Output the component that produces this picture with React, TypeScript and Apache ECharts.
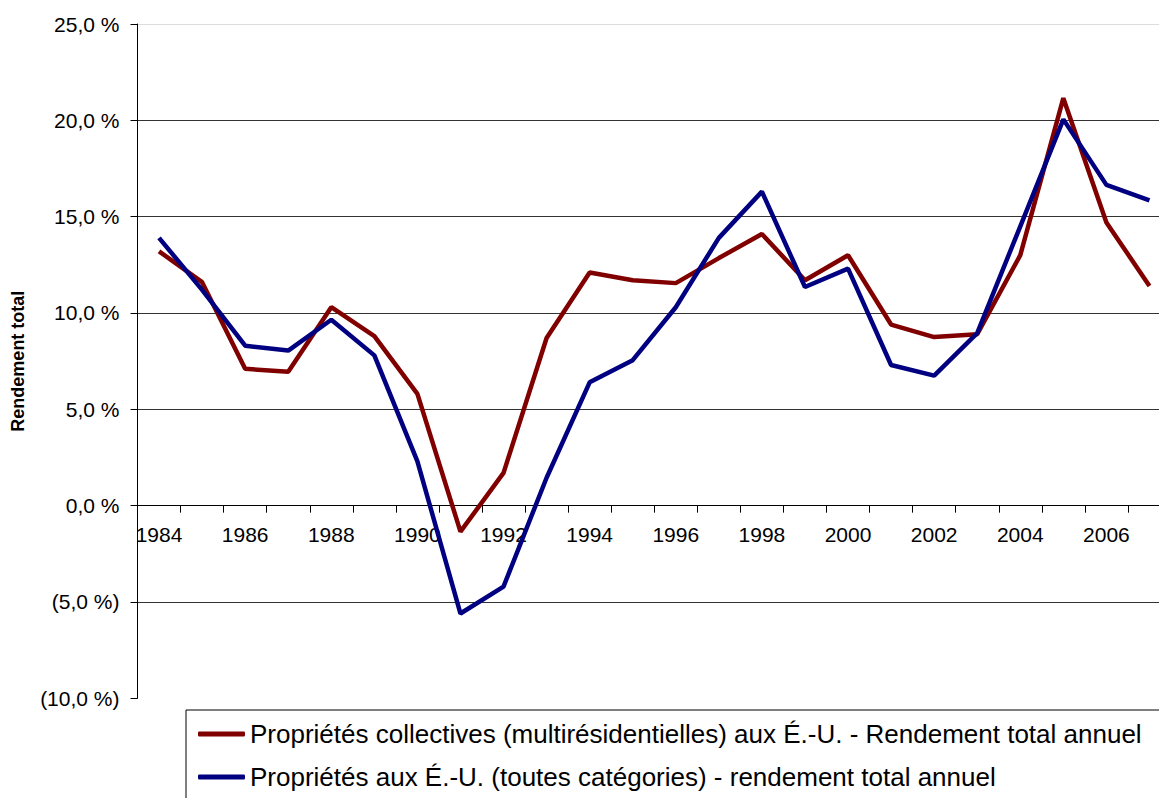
import React, { useEffect, useRef } from "react";
import * as echarts from "echarts";

const years = [
  "1984", "1985", "1986", "1987", "1988", "1989", "1990", "1991", "1992", "1993", "1994", "1995",
  "1996", "1997", "1998", "1999", "2000", "2001", "2002", "2003", "2004", "2005", "2006", "2007",
];
const multiFamily = [
  13.2, 11.6, 7.1, 6.95, 10.3, 8.8, 5.8, -1.35, 1.7, 8.7, 12.1, 11.7,
  11.55, 12.85, 14.1, 11.7, 13.0, 9.4, 8.75, 8.9, 13.0, 21.15, 14.7, 11.4,
];
const allProperty = [
  13.9, 11.2, 8.3, 8.05, 9.65, 7.8, 2.3, -5.6, -4.2, 1.45, 6.4, 7.55,
  10.3, 13.9, 16.3, 11.35, 12.3, 7.3, 6.75, 8.95, 14.5, 20.05, 16.65, 15.85,
];
const seriesNames = [
  "Propriétés collectives (multirésidentielles) aux É.-U. - Rendement total annuel",
  "Propriétés aux É.-U. (toutes catégories) - rendement total annuel",
];
const yAxisName = "Rendement total";

const fmt = (v: number) => {
  const s = Math.abs(v).toFixed(1).replace(".", ",") + " %";
  return v < 0 ? `(${s})` : s;
};

export default function App() {
  const ref = useRef<HTMLDivElement>(null);
  useEffect(() => {
    if (!ref.current) return;
    const chart = echarts.init(ref.current, null, { renderer: "svg" });
    const font = "Liberation Sans, Arial, sans-serif";
    const gridTop = 24;
    const gridH = 674.3;
    chart.setOption({
      animation: false,
      backgroundColor: "#fff",
      textStyle: { fontFamily: font },
      grid: { left: 137.5, top: gridTop, width: 1033.5, height: gridH, containLabel: false },
      xAxis: {
        type: "category",
        data: years,
        boundaryGap: true,
        position: "bottom",
        offset: -(gridH * 10) / 35,
        axisLine: { onZero: false, lineStyle: { color: "#000", width: 1 } },
        axisTick: { show: true, interval: 0, length: 7, inside: false, lineStyle: { color: "#000" } },
        axisLabel: { interval: 1, color: "#000", fontSize: 21, fontFamily: font, margin: 18 },
        splitLine: { show: false },
      },
      yAxis: {
        type: "value",
        min: -10,
        max: 25,
        interval: 5,
        name: yAxisName,
        nameLocation: "middle",
        nameGap: 111,
        nameTextStyle: { color: "#000", fontSize: 18, fontWeight: "bold", fontFamily: font },
        axisLine: { show: true, lineStyle: { color: "#000", width: 1 } },
        axisTick: { show: true, length: 7, lineStyle: { color: "#000" } },
        axisLabel: { color: "#000", fontSize: 21, fontFamily: font, margin: 18, formatter: fmt },
        splitLine: {
          show: true,
          lineStyle: {
            color: ["rgba(0,0,0,0)", "#333", "#333", "#333", "#333", "#333", "#333", "#ddd"],
            width: 1,
          },
        },
      },
      legend: {
        show: true,
        orient: "vertical",
        left: 198,
        top: 720,
        padding: 0,
        itemWidth: 47,
        itemHeight: 5,
        itemGap: 15,
        icon: "roundRect",
        textStyle: { color: "#000", fontSize: 26, fontFamily: font, lineHeight: 28 },
        data: seriesNames,
      },
      graphic: [
        {
          type: "rect",
          left: 183.5,
          top: 707.5,
          shape: { width: 1100, height: 120 },
          style: { fill: "none", stroke: "#000", lineWidth: 1 },
          z: 0,
        },
      ],
      series: [
        {
          name: seriesNames[0],
          type: "line",
          data: multiFamily,
          showSymbol: false,
          symbol: "none",
          color: "#800000",
          lineStyle: { color: "#800000", width: 4.5 },
          z: 3,
        },
        {
          name: seriesNames[1],
          type: "line",
          data: allProperty,
          showSymbol: false,
          symbol: "none",
          color: "#000080",
          lineStyle: { color: "#000080", width: 4.5 },
          z: 4,
        },
      ],
    });
    return () => chart.dispose();
  }, []);
  return (
    <div
      style={{
        position: "absolute",
        left: 0,
        top: 0,
        width: 1159,
        height: 798,
        overflow: "hidden",
        background: "#fff",
      }}
    >
      <div ref={ref} style={{ width: 1185, height: 798 }} />
    </div>
  );
}
